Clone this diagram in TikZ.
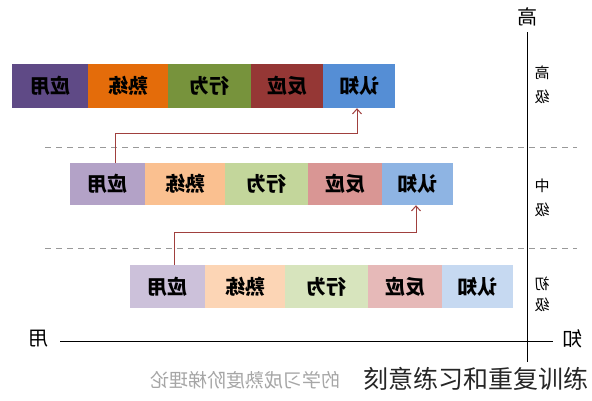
\documentclass[tikz,border=0pt]{standalone}
\usepackage{fontspec}
\newfontfamily\cjk{Noto Sans CJK SC}
\usetikzlibrary{arrows.meta}
\definecolor{tPu}{HTML}{5F4A86}
\definecolor{tOr}{HTML}{E46C0A}
\definecolor{tGr}{HTML}{77933C}
\definecolor{tRe}{HTML}{953735}
\definecolor{tBl}{HTML}{558ED5}
\definecolor{mPu}{HTML}{B3A2C7}
\definecolor{mOr}{HTML}{FAC090}
\definecolor{mGr}{HTML}{C3D69B}
\definecolor{mRe}{HTML}{D99694}
\definecolor{mBl}{HTML}{8EB4E3}
\definecolor{bPu}{HTML}{CCC1DA}
\definecolor{bOr}{HTML}{FCD5B5}
\definecolor{bGr}{HTML}{D7E4BD}
\definecolor{bRe}{HTML}{E6B9B8}
\definecolor{bBl}{HTML}{C6D9F1}
\definecolor{arrred}{HTML}{A0403E}
\tikzset{
  mir/.style={xscale=-1},
  cell/.style={mir, rectangle, inner sep=0pt, font=\cjk\bfseries\fontsize{20}{20}\selectfont, text=black},
  trow/.style={cell, minimum height=44pt},
  mrow/.style={cell, minimum height=42pt},
  brow/.style={cell, minimum height=43pt},
  lvl/.style={mir, inner sep=0pt, font=\cjk\fontsize{15}{15}\selectfont},
  axlab/.style={mir, inner sep=0pt, font=\cjk\fontsize{20}{20}\selectfont},
  axis/.style={line width=1pt, black},
  sep/.style={line width=0.9pt, gray!80, dash pattern=on 6pt off 5pt},
  arr/.style={line width=1pt, arrred, -{Straight Barb[length=5pt,width=9pt]}},
}
\begin{document}
\begin{tikzpicture}[x=1pt,y=-1pt]
\useasboundingbox (0,0) rectangle (592,400);
\fill[white] (0,0) rectangle (592,400);
% top row
\node[trow, fill=tPu, minimum width=76pt] (t1) at (50,86) {应用};
\node[trow, fill=tOr, minimum width=80pt] (t2) at (128,86) {熟练};
\node[trow, fill=tGr, minimum width=83pt] (t3) at (209.5,86) {行为};
\node[trow, fill=tRe, minimum width=72pt] (t4) at (287,86) {反应};
\node[trow, fill=tBl, minimum width=72pt] (t5) at (359,86) {认知};
% middle row
\node[mrow, fill=mPu, minimum width=75pt] (m1) at (107.5,184) {应用};
\node[mrow, fill=mOr, minimum width=80pt] (m2) at (185,184) {熟练};
\node[mrow, fill=mGr, minimum width=83pt] (m3) at (266.5,184) {行为};
\node[mrow, fill=mRe, minimum width=74pt] (m4) at (345,184) {反应};
\node[mrow, fill=mBl, minimum width=71pt] (m5) at (417.5,184) {认知};
% bottom row
\node[brow, fill=bPu, minimum width=75pt] (b1) at (167.5,286.5) {应用};
\node[brow, fill=bOr, minimum width=80pt] (b2) at (245,286.5) {熟练};
\node[brow, fill=bGr, minimum width=83pt] (b3) at (326.5,286.5) {行为};
\node[brow, fill=bRe, minimum width=74pt] (b4) at (405,286.5) {反应};
\node[brow, fill=bBl, minimum width=71pt] (b5) at (477.5,286.5) {认知};
% separators
\coordinate (s1a) at (45,147); \coordinate (s1b) at (577,147);
\coordinate (s2a) at (45,248); \coordinate (s2b) at (577,248);
\draw[sep] (s1a) -- (s1b);
\draw[sep] (s2a) -- (s2b);
% axes
\coordinate (vt) at (527,32); \coordinate (vb) at (527,362);
\coordinate (hl) at (60,341); \coordinate (hr) at (553,341);
\draw[axis] (vt) -- (vb);
\draw[axis] (hl) -- (hr);
\node[axlab] (hi) at (527,17) {高};
\node[axlab] (zhi) at (572,339) {知};
\node[axlab] (yong) at (38,339) {用};
% level labels
\node[lvl] (l1a) at (542,73) {高};
\node[lvl] (l1b) at (542,97) {级};
\node[lvl] (l2a) at (542,186) {中};
\node[lvl] (l2b) at (542,210) {级};
\node[lvl] (l3a) at (542,284) {初};
\node[lvl] (l3b) at (542,305) {级};
% arrows
\draw[arr] ([xshift=7.5pt]m1.north) -- ++(0,-29) -| ([xshift=-2pt]t5.south);
\draw[arr] ([xshift=6.5pt]b1.north) -- ++(0,-32) -| ([xshift=-1.5pt]m5.south);
% caption
\node[mir, anchor=east, inner sep=0pt, text=gray!70, font=\cjk\fontsize{19}{19}\selectfont] (cap) at (150,380) {的学习成熟度阶梯理论};
\node[anchor=west, inner sep=0pt, text=black!85, font=\cjk\fontsize{25}{25}\selectfont] (wm) at (363,379) {刻意练习和重复训练};
\end{tikzpicture}
\end{document}
